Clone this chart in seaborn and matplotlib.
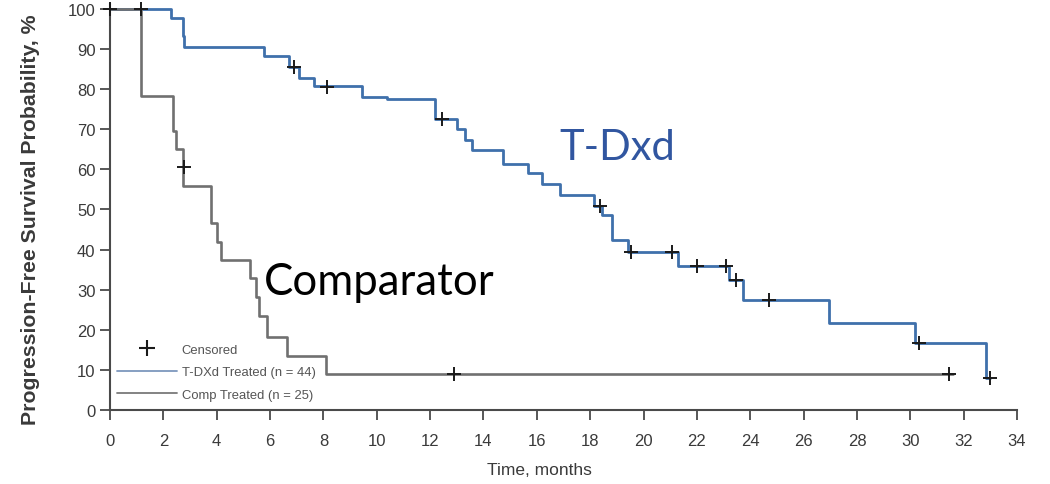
import matplotlib
matplotlib.use("Agg")
import matplotlib.pyplot as plt
from matplotlib.lines import Line2D
import seaborn as sns
import pandas as pd

# ---- data ----
tdxd_time = [0, 2.28, 2.72, 2.78, 5.77, 6.70, 7.10, 7.66, 9.44, 10.40, 12.20, 13.00, 13.30,
             13.58, 14.72, 15.67, 16.19, 16.88, 18.15, 18.45, 18.83, 19.43, 21.28, 23.20,
             23.72, 26.97, 30.17, 32.82, 32.98]
tdxd_surv = [100, 97.7, 93.2, 90.5, 88.2, 85.5, 82.8, 80.7, 77.9, 77.5, 72.6, 70.1, 67.4,
             64.9, 61.3, 59.0, 56.4, 53.7, 50.9, 48.6, 42.3, 39.3, 35.8, 32.4,
             27.4, 21.7, 16.6, 8.0, 8.0]

comp_time = [0, 1.15, 2.37, 2.48, 2.74, 3.80, 4.00, 4.17, 5.23, 5.48, 5.60, 5.88, 6.63, 8.10, 31.6]
comp_surv = [100, 78.3, 69.5, 65.0, 55.9, 46.6, 42.0, 37.4, 32.8, 28.1, 23.5, 18.3, 13.5, 9.0, 9.0]

tdxd_cens_time = [6.88, 8.15, 12.45, 18.35, 19.53, 21.05, 22.02, 23.10, 23.48, 24.70, 30.33, 32.98]
tdxd_cens_surv = [85.5, 80.6, 72.6, 50.9, 39.3, 39.3, 35.8, 35.8, 32.4, 27.4, 16.6, 8.0]

comp_cens_time = [0.0, 1.18, 2.77, 12.90, 31.45]
comp_cens_surv = [100, 100, 60.5, 9.0, 9.0]

x_ticks = list(range(0, 35, 2))
y_ticks = list(range(0, 101, 10))

legend_labels = ["Censored", "T-DXd Treated (n = 44)", "Comp Treated (n = 25)"]
arm_labels = ["T-Dxd", "Comparator"]

# ---- styling ----
sns.set_theme(style="ticks")
plt.rcParams["font.family"] = ["Liberation Sans", "DejaVu Sans"]

BLUE = "#3F70AB"
GRAY = "#707070"
AXC = "#4A4A4A"
TXT = "#3a3a3a"

fig = plt.figure(figsize=(10.5, 4.85), dpi=100)
ax = fig.add_axes([110 / 1050, 74 / 485, 907 / 1050, 406 / 485])

tdxd_df = pd.DataFrame({"t": tdxd_time, "s": tdxd_surv})
comp_df = pd.DataFrame({"t": comp_time, "s": comp_surv})
cens_df = pd.DataFrame({"t": tdxd_cens_time + comp_cens_time,
                        "s": tdxd_cens_surv + comp_cens_surv})

sns.lineplot(data=tdxd_df, x="t", y="s", ax=ax, color=BLUE, linewidth=2.0,
             drawstyle="steps-post", estimator=None, sort=False, zorder=3)
sns.lineplot(data=comp_df, x="t", y="s", ax=ax, color=GRAY, linewidth=1.9,
             drawstyle="steps-post", estimator=None, sort=False, zorder=4)
sns.scatterplot(data=cens_df, x="t", y="s", ax=ax, marker="+", color="#1a1a1a",
                s=105, linewidth=1.4, zorder=5, clip_on=False)

ax.set_xlim(0, 34)
ax.set_ylim(0, 101.2)
ax.set_xticks(x_ticks)
ax.set_yticks(y_ticks)
ax.set_xticklabels([str(v) for v in x_ticks])
ax.set_yticklabels([str(v) for v in y_ticks])

for sp in ["top", "right"]:
    ax.spines[sp].set_visible(False)
for sp in ["left", "bottom"]:
    ax.spines[sp].set_color(AXC)
    ax.spines[sp].set_linewidth(1.5)

ax.tick_params(axis="x", direction="out", length=7.5, width=1.3, colors=AXC,
               labelsize=12, labelcolor=TXT, pad=9)
ax.tick_params(axis="y", direction="out", length=7.5, width=1.3, colors=AXC,
               labelsize=12, labelcolor=TXT, pad=3)

ax.set_xlabel("Time, months", fontsize=12.5, color=TXT)
ax.xaxis.set_label_coords(0.473, -0.128)
ax.set_ylabel("Progression-Free Survival Probability, %", fontsize=15.3,
              fontweight="bold", color=TXT)
ax.yaxis.set_label_coords(-0.077, 0.47)

# arm annotations
ax.text(16.85, 62.6, arm_labels[0], fontsize=30, color="#3156A0",
        family=["Lato", "DejaVu Sans"], ha="left", va="baseline")
ax.text(5.75, 28.9, arm_labels[1], fontsize=31.5, color="black",
        family=["Lato", "DejaVu Sans"], ha="left", va="baseline")

# legend
handles = [
    Line2D([], [], linestyle="none", marker="+", color="#1a1a1a", markersize=11,
           markeredgewidth=1.5),
    Line2D([], [], color="#7d97bd", linewidth=1.3),
    Line2D([], [], color="#7a7a7a", linewidth=1.3),
]
leg = ax.legend(handles, legend_labels, loc="lower left", bbox_to_anchor=(0.0077, 0.023),
                frameon=False, fontsize=9.4, handlelength=4.6, handletextpad=0.36,
                labelspacing=0.78, borderpad=0, borderaxespad=0)
for t in leg.get_texts():
    t.set_color("#555555")

fig.savefig("out.png", dpi=100, facecolor="white")
